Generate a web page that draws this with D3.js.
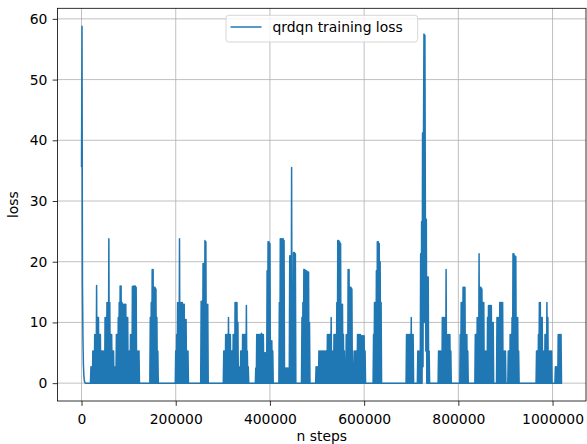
<!DOCTYPE html>
<html><head><meta charset="utf-8">
<script src="https://cdn.jsdelivr.net/npm/d3@7"></script>
<style>
body{margin:0;background:#fff}
svg{display:block}
text{font-family:"DejaVu Sans",sans-serif;fill:#000}
</style>
</head><body>
<svg id="chart" width="587" height="444"></svg>
<script>
// ---- data: training loss logged every LOG_INTERVAL steps ----
const LOG_INTERVAL = 1000;
const lossValues = [
  35.6,58.8,16.6,7.4,3.0,1.2,0.4,0.1,0,0, 0,0,0,0,0,0,0,0,0,0,
  2.7,0,2.7,0,5.3,0,5.3,0,8.0,0, 8.0,0,16.1,0,10.8,0,10.8,0,8.0,0,
  8.0,0,5.3,0,5.3,0,5.3,0,5.3,0, 10.8,0,10.8,0,13.3,0,13.3,0,23.8,0,
  13.3,0,8.0,0,8.0,0,5.3,0,5.3,0, 2.7,0,2.7,0,8.0,0,8.0,0,10.8,0,
  13.3,0,16.0,0,16.0,0,13.3,0,13.0,0, 13.0,0,13.0,0,13.0,0,10.8,0,10.8,0,
  5.3,0,5.3,0,8.0,0,8.0,0,15.9,0, 16.0,0,16.0,0,16.0,0,15.8,0,5.3,0,
  5.3,0,5.3,0,0,0,0,0,0,0, 0,0,0,0,0,0,0,0,0,0,
  0,0,0,0,0,0,10.8,0,13.3,0, 18.7,0,18.7,0,15.8,0,15.8,0,15.5,0,
  10.8,0,5.3,0,0,0,0,0,0,0, 0,0,0,0,0,0,0,0,0,0,
  0,0,0,0,0,0,0,0,0,0, 0,0,0,0,0,0,0,0,0,0,
  5.3,0,8.0,0,13.3,0,13.3,0,23.8,0, 13.3,0,13.3,0,13.3,0,13.0,0,13.0,0,
  10.5,0,10.5,0,5.3,0,5.3,0,0,0, 0,0,0,0,0,0,0,0,0,0,
  0,0,0,0,0,0,0,0,0,0, 0,0,0,0,13.5,0,13.5,0,19.7,0,
  19.7,0,23.5,0,23.3,0,13.0,0,13.0,0, 0,0,0,0,0,0,0,0,0,0,
  0,0,0,0,0,0,0,0,0,0, 0,0,0,0,0,0,0,0,0,0,
  0,0,5.3,0,5.3,0,8.0,0,8.0,0, 8.0,0,10.8,0,8.0,0,8.0,0,5.3,0,
  5.3,0,8.0,0,8.0,0,13.3,0,13.3,0, 13.3,0,10.0,0,2.7,0,2.7,0,5.3,0,
  5.3,0,8.0,0,8.0,0,8.0,0,8.0,0, 12.8,0,5.3,0,2.7,0,0,0,0,0,
  0,0,0,0,0,0,0,0,0,0, 2.5,0,8.0,0,8.0,0,8.0,0,8.0,0,
  8.0,0,8.2,0,8.0,0,8.0,0,5.0,0, 5.0,0,5.0,0,18.5,0,23.3,0,23.3,0,
  23.0,0,7.0,0,7.0,0,5.3,0,0,0, 0,0,0,0,0,0,0,0,0,0,
  13.3,0,23.8,0,23.8,0,23.8,0,23.8,0, 23.5,0,2.5,0,2.5,0,2.5,0,2.5,0,
  2.5,0,21.0,0,21.0,0,35.5,0,2.5,0, 21.5,0,21.5,0,21.3,0,0,0,0,0,
  0,0,0,0,0,0,0,0,10.8,0, 13.3,0,18.7,0,18.7,0,18.5,0,18.5,0,
  18.3,0,18.3,0,10.0,0,0,0,0,0, 0,0,0,0,0,0,0,0,2.7,0,
  2.7,0,2.7,0,5.3,0,5.3,0,5.3,0, 5.3,0,5.3,0,5.3,0,5.3,0,5.3,0,
  5.3,0,8.0,0,8.0,0,8.0,0,8.0,0, 10.8,0,5.3,0,5.3,0,8.0,0,8.0,0,
  8.0,0,13.3,0,23.5,0,23.5,0,23.3,0, 23.0,0,13.0,0,13.0,0,8.0,0,5.3,0,
  0,0,8.0,0,8.0,0,18.7,0,18.7,0, 15.8,0,15.8,0,15.5,0,5.3,0,0,0,
  5.3,0,5.3,0,5.3,0,8.0,0,8.0,0, 8.0,0,8.0,0,7.8,0,7.8,0,7.8,0,
  7.8,0,5.3,0,0,0,0,0,0,0, 0,0,0,0,0,0,0,0,0,0,
  8.0,0,13.3,0,13.3,0,18.5,0,23.3,0, 23.3,0,23.0,0,20.0,0,13.3,0,0,0,
  0,0,0,0,0,0,0,0,0,0, 0,0,0,0,0,0,0,0,0,0,
  0,0,0,0,0,0,0,0,0,0, 0,0,0,0,0,0,0,0,0,0,
  0,0,0,0,0,0,0,0,0,0, 8.0,0,8.0,0,8.0,0,8.0,0,8.0,0,
  10.8,0,8.0,0,8.0,0,0,0,0,0, 0,0,0,0,5.3,0,5.3,0,5.3,0,
  21.3,0,26.6,0,41.2,2.7,41.2,57.5,10.0,57.3, 27.0,5.3,27.0,0,17.5,0,17.5,0,5.3,0,
  0,0,0,0,0,0,0,0,0,0, 0,0,0,0,0,0,0,0,5.3,0,
  5.3,0,5.3,0,5.3,0,10.8,0,10.8,0, 10.8,0,10.8,0,18.7,0,8.0,0,8.0,0,
  8.0,0,8.0,0,5.3,0,0,0,0,0, 0,0,0,0,0,0,0,0,0,0,
  0,0,0,0,8.0,0,13.3,0,13.3,0, 15.8,0,15.8,0,15.8,0,8.0,0,8.0,0,
  5.3,0,0,0,0,0,0,0,0,0, 0,0,0,0,0,0,8.0,0,8.0,0,
  10.8,0,10.8,0,21.3,0,15.8,0,15.8,0, 15.5,0,13.3,0,13.3,0,5.3,0,5.3,0,
  5.3,0,10.8,0,12.8,0,12.8,0,12.8,0, 12.8,0,10.0,0,10.0,0,0,0,0,0,
  0,0,10.8,0,10.8,0,10.8,0,13.3,0, 13.3,0,13.3,0,13.3,0,5.3,0,5.3,0,
  5.3,0,0,0,0,0,5.3,0,5.3,0, 8.0,0,8.0,0,10.8,0,21.3,0,21.3,0,
  21.0,0,20.8,0,10.8,0,10.8,0,5.3,0, 0,0,0,0,0,0,0,0,0,0,
  0,0,0,0,0,0,0,0,0,0, 0,0,0,0,0,0,0,0,0,0,
  0,0,0,0,0,0,5.3,0,5.3,0, 8.0,0,13.3,0,13.3,0,10.8,0,10.8,0,
  5.3,0,5.3,0,8.0,0,8.0,0,13.3,0, 10.8,0,5.3,0,5.3,0,5.3,0,5.3,0,
  0,0,0,0,0,0,2.7,0,2.7,0, 2.7,0,8.0,0,8.0,0,8.0,0,8.0,0,
  0
];
const xTickValues = [0, 200000, 400000, 600000, 800000, 1000000];
const yTickValues = [0, 10, 20, 30, 40, 50, 60];
const seriesName = "qrdqn training loss";
const xLabelText = "n steps";
const yLabelText = "loss";

// ---- layout ----
const svg = d3.select("#chart");
const plot = {left: 57.5, top: 8.3, right: 586, bottom: 401};
const FS = 13.9;
const series = lossValues.map((v, i) => ({step: i * LOG_INTERVAL, loss: v}));
const xMax = d3.max(series, d => d.step);
const yMax = d3.max(series, d => d.loss);
const x = d3.scaleLinear().domain([-0.05 * xMax, 1.05 * xMax]).range([plot.left, plot.right]);
const y = d3.scaleLinear().domain([-0.05 * yMax, 1.05 * yMax]).range([plot.bottom, plot.top]);

// grid
const grid = svg.append("g");
grid.selectAll("line.gx").data(xTickValues).join("line")
  .attr("x1", d => x(d)).attr("x2", d => x(d))
  .attr("y1", plot.top).attr("y2", plot.bottom)
  .attr("stroke", "#b0b0b0").attr("stroke-width", 0.8);
grid.selectAll("line.gy").data(yTickValues).join("line")
  .attr("x1", plot.left).attr("x2", plot.right)
  .attr("y1", d => y(d)).attr("y2", d => y(d))
  .attr("stroke", "#b0b0b0").attr("stroke-width", 0.8);

// line
const line = d3.line().x(d => x(d.step)).y(d => y(d.loss));
svg.append("path").datum(series)
  .attr("d", line).attr("fill", "none")
  .attr("stroke", "#1f77b4").attr("stroke-width", 1.5)
  .attr("stroke-linejoin", "round").attr("stroke-linecap", "butt");

// spines
svg.append("rect").attr("x", plot.left).attr("y", plot.top)
  .attr("width", plot.right - plot.left).attr("height", plot.bottom - plot.top)
  .attr("fill", "none").attr("stroke", "#000").attr("stroke-width", 0.8);

// axes
const xAxis = d3.axisBottom(x).tickValues(xTickValues).tickFormat(d3.format("d"))
  .tickSize(4.86).tickPadding(7.8).tickSizeOuter(0);
const gx = svg.append("g").attr("transform", `translate(0,${plot.bottom})`).call(xAxis);
const yAxis = d3.axisLeft(y).tickValues(yTickValues).tickFormat(d3.format("d"))
  .tickSize(4.86).tickPadding(5.2).tickSizeOuter(0);
const gy = svg.append("g").attr("transform", `translate(${plot.left},0)`).call(yAxis);
[gx, gy].forEach(g => {
  g.select(".domain").remove();
  g.selectAll(".tick line").attr("stroke", "#000").attr("stroke-width", 0.8);
  g.selectAll(".tick text").attr("font-size", FS).attr("font-family", "DejaVu Sans").attr("fill", "#000");
});

// axis labels
svg.append("text").attr("x", (plot.left + plot.right) / 2).attr("y", 440.5)
  .attr("text-anchor", "middle").attr("font-size", FS).text(xLabelText);
svg.append("text").attr("transform", `translate(18.3,${(plot.top + plot.bottom) / 2}) rotate(-90)`)
  .attr("text-anchor", "middle").attr("font-size", FS).text(yLabelText);

// legend
const lg = svg.append("g");
lg.append("rect").attr("x", 226).attr("y", 15.3).attr("width", 191.7).attr("height", 26.7)
  .attr("rx", 2.8).attr("fill", "#fff").attr("fill-opacity", 0.8)
  .attr("stroke", "#cccccc").attr("stroke-width", 0.8);
lg.append("line").attr("x1", 230.5).attr("x2", 261.5).attr("y1", 27).attr("y2", 27)
  .attr("stroke", "#1f77b4").attr("stroke-width", 1.5);
lg.append("text").attr("x", 272.5).attr("y", 32).attr("font-size", FS).text(seriesName);
</script>
</body></html>
